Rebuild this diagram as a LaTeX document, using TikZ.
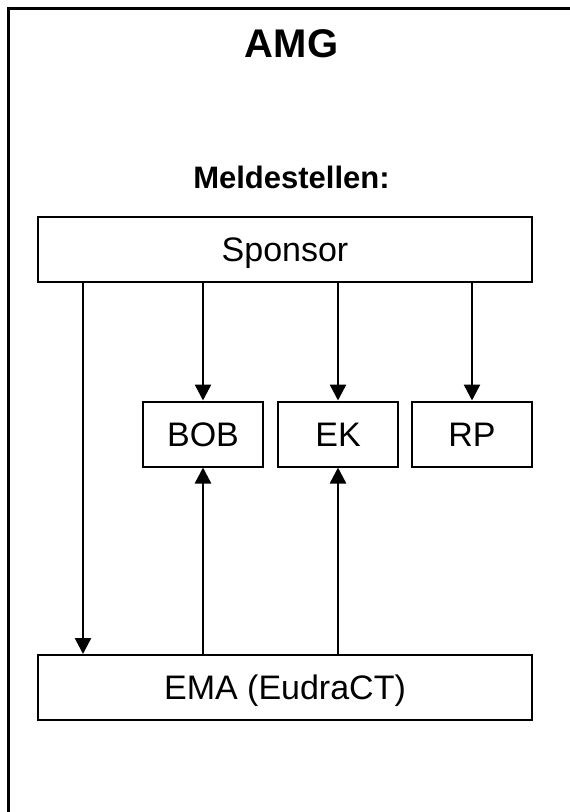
\documentclass[tikz,border=0pt]{standalone}
\usepackage{fontspec}
\setmainfont{Liberation Sans}
\usetikzlibrary{arrows.meta}
\begin{document}
\begin{tikzpicture}[x=1pt,y=-1pt,
  box/.style={draw,line width=2pt,inner sep=0pt,minimum height=65pt,
    font=\fontsize{34}{38}\selectfont,text height=24pt,text depth=0pt},
  wide/.style={box,minimum width=494pt},
  small/.style={box,minimum width=120pt},
  arr/.style={line width=2.5pt,-{Triangle[length=16pt,width=16pt]}},
  frame/.style={line width=3pt}]
\useasboundingbox (0,0) rectangle (570,812);
\draw[frame] (8,812) -- (8,8) -- (570,8);
\node[font=\bfseries\fontsize{40}{44}\selectfont,text height=29pt,text depth=0pt,inner sep=0pt] (amg) at (291.5,43) {AMG};
\node[font=\bfseries\fontsize{31}{36}\selectfont,text height=23pt,text depth=0pt,inner sep=0pt] (melde) at (291.5,176.5) {Meldestellen:};
\node[wide] (sponsor) at (285,249.5) {Sponsor};
\node[small] (bob) at (203,434) {BOB};
\node[small] (ek) at (338,434) {EK};
\node[small] (rp) at (472,434) {RP};
\node[wide] (ema) at (285,687.5) {EMA (EudraCT)};
\coordinate (l) at (83,0);
\draw[arr] (sponsor.south -| l) -- (ema.north -| l);
\draw[arr] (sponsor.south -| bob.north) -- (bob.north);
\draw[arr] (sponsor.south -| ek.north) -- (ek.north);
\draw[arr] (sponsor.south -| rp.north) -- (rp.north);
\draw[arr] (ema.north -| bob.south) -- (bob.south);
\draw[arr] (ema.north -| ek.south) -- (ek.south);
\end{tikzpicture}
\end{document}
